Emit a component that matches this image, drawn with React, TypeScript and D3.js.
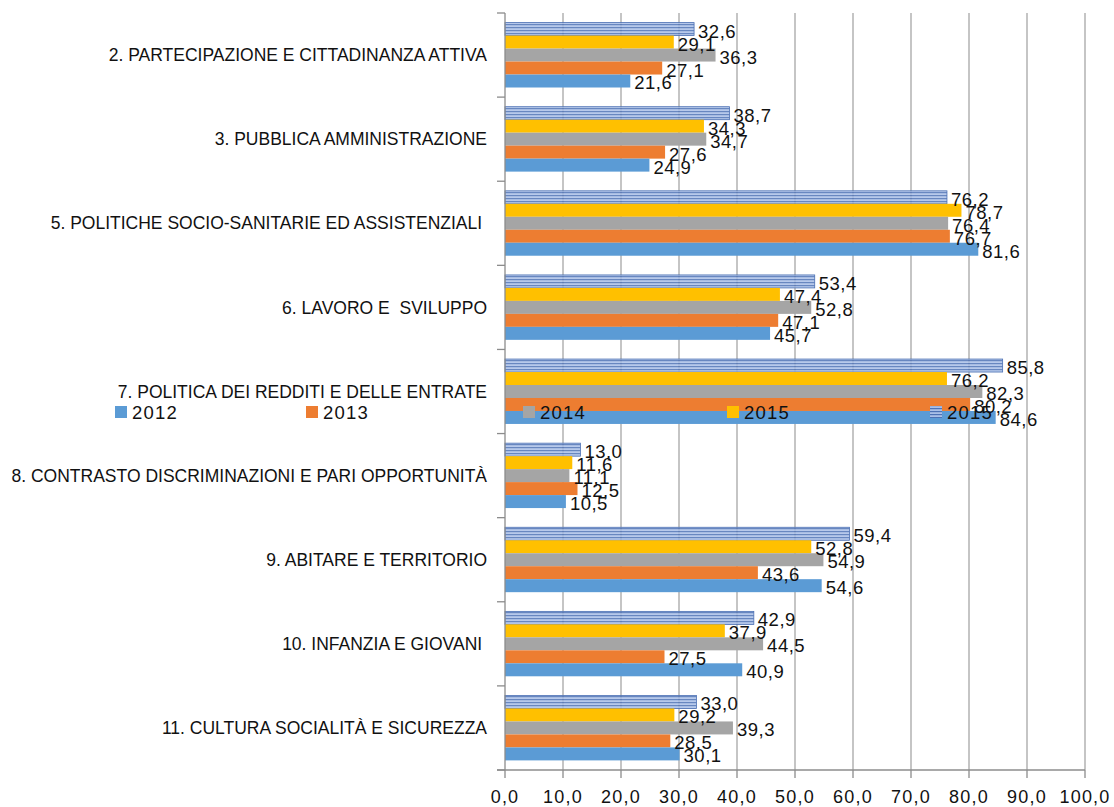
import React from "react";
import * as d3 from "d3";

const categories = [
  "2. PARTECIPAZIONE E CITTADINANZA ATTIVA",
  "3. PUBBLICA AMMINISTRAZIONE",
  "5. POLITICHE SOCIO-SANITARIE ED ASSISTENZIALI ",
  "6. LAVORO E  SVILUPPO",
  "7. POLITICA DEI REDDITI E DELLE ENTRATE",
  "8. CONTRASTO DISCRIMINAZIONI E PARI OPPORTUNITÀ",
  "9. ABITARE E TERRITORIO",
  "10. INFANZIA E GIOVANI ",
  "11. CULTURA SOCIALITÀ E SICUREZZA",
];

const v2012 = [21.6, 24.9, 81.6, 45.7, 84.6, 10.5, 54.6, 40.9, 30.1];
const v2013 = [27.1, 27.6, 76.7, 47.1, 80.2, 12.5, 43.6, 27.5, 28.5];
const v2014 = [36.3, 34.7, 76.4, 52.8, 82.3, 11.1, 54.9, 44.5, 39.3];
const v2015 = [29.1, 34.3, 78.7, 47.4, 76.2, 11.6, 52.8, 37.9, 29.2];
const v2016 = [32.6, 38.7, 76.2, 53.4, 85.8, 13.0, 59.4, 42.9, 33.0];

const xTicks = [0, 10, 20, 30, 40, 50, 60, 70, 80, 90, 100];

// legend order left->right, and the label shown for each
const series = [
  { key: "s2012", label: "2012", values: v2012, fill: "#5b9bd5" },
  { key: "s2013", label: "2013", values: v2013, fill: "#ed7d31" },
  { key: "s2014", label: "2014", values: v2014, fill: "#a5a5a5" },
  { key: "s2015", label: "2015", values: v2015, fill: "#ffc000" },
  { key: "s2016", label: "2015", values: v2016, fill: "url(#stripes)" },
];
// bars are stacked top->bottom in reverse order
const barOrder = ["s2016", "s2015", "s2014", "s2013", "s2012"];

const W = 1114;
const H = 807;
const plot = { left: 505, right: 1085, top: 13, bottom: 770 };
const FONT = "'Liberation Sans', Arial, sans-serif";

const fmt = (v: number) => v.toFixed(1).replace(".", ",");

export default function App() {
  const x = d3.scaleLinear().domain([0, 100]).range([plot.left, plot.right]);
  const y = d3
    .scaleBand()
    .domain(categories)
    .range([plot.top, plot.bottom])
    .padding(0);
  const inner = d3
    .scaleBand()
    .domain(barOrder)
    .range([0, y.bandwidth()])
    .paddingInner(0)
    .paddingOuter(0.74);

  const boundaries = categories.map((c) => y(c) as number).concat(plot.bottom);
  const legendX = [115, 306, 523, 727, 930];
  const legendY = 412;

  return (
    <svg
      width={W}
      height={H}
      style={{ position: "absolute", left: 0, top: 0, background: "#fff" }}
      fontFamily={FONT}
    >
      <defs>
        <pattern id="stripes" width="6" height="3" patternUnits="userSpaceOnUse">
          <rect width="6" height="3" fill="#aac0e8" />
          <rect width="6" height="1.2" fill="#4e72b5" />
        </pattern>
      </defs>

      {/* gridlines */}
      {xTicks.slice(1).map((t) => (
        <line
          key={"g" + t}
          x1={x(t)}
          x2={x(t)}
          y1={plot.top}
          y2={plot.bottom}
          stroke="#a6a6a6"
          strokeWidth={1.3}
        />
      ))}

      {/* bars */}
      {categories.map((c, i) =>
        barOrder.map((k) => {
          const s = series.find((d) => d.key === k)!;
          const by = (y(c) as number) + (inner(k) as number);
          const striped = k === "s2016";
          return (
            <rect
              key={c + k}
              x={x(0)}
              y={by}
              width={x(s.values[i]) - x(0)}
              height={inner.bandwidth()}
              fill={s.fill}
              fillOpacity={striped ? 0.85 : 1}
              stroke={striped ? "#4a6fb3" : "none"}
              strokeWidth={striped ? 0.8 : 0}
            />
          );
        })
      )}

      {/* axes */}
      <line x1={plot.left} x2={plot.left} y1={plot.top} y2={plot.bottom} stroke="#8c8c8c" strokeWidth={1.3} />
      {boundaries.map((b, i) => (
        <line key={"yt" + i} x1={plot.left - 8} x2={plot.left} y1={b} y2={b} stroke="#8c8c8c" strokeWidth={1.3} />
      ))}
      <line x1={plot.left - 8} x2={plot.right} y1={plot.bottom} y2={plot.bottom} stroke="#8c8c8c" strokeWidth={1.3} />
      {xTicks.map((t) => (
        <g key={"xt" + t}>
          <line x1={x(t)} x2={x(t)} y1={plot.bottom} y2={plot.bottom + 8} stroke="#8c8c8c" strokeWidth={1.3} />
          <text
            x={x(t)}
            y={plot.bottom + 33}
            textAnchor="middle"
            fontSize={18}
            letterSpacing={1.2}
            fill="#111"
          >
            {fmt(t)}
          </text>
        </g>
      ))}

      {/* category labels */}
      {categories.map((c) => (
        <text
          key={"cl" + c}
          x={487}
          y={(y(c) as number) + y.bandwidth() / 2}
          dy="0.35em"
          textAnchor="end"
          fontSize={17.5}
          fill="#111"
          style={{ whiteSpace: "pre" }}
        >
          {c}
        </text>
      ))}

      {/* legend (drawn over the plot) */}
      {series.map((s, i) => (
        <g key={"lg" + s.key}>
          <rect x={legendX[i]} y={legendY - 6} width={12} height={12} fill={s.fill} />
          <text
            x={legendX[i] + 17}
            y={legendY}
            dy="0.36em"
            fontSize={18.5}
            letterSpacing={1.2}
            fill="#111"
          >
            {s.label}
          </text>
        </g>
      ))}

      {/* data labels */}
      {categories.map((c, i) =>
        barOrder.map((k) => {
          const s = series.find((d) => d.key === k)!;
          const by = (y(c) as number) + (inner(k) as number) + inner.bandwidth() / 2;
          return (
            <text
              key={"dl" + c + k}
              x={x(s.values[i]) + 4}
              y={by + 2}
              dy="0.35em"
              fontSize={18.5}
              letterSpacing={0.5}
              fill="#111"
            >
              {fmt(s.values[i])}
            </text>
          );
        })
      )}
    </svg>
  );
}
